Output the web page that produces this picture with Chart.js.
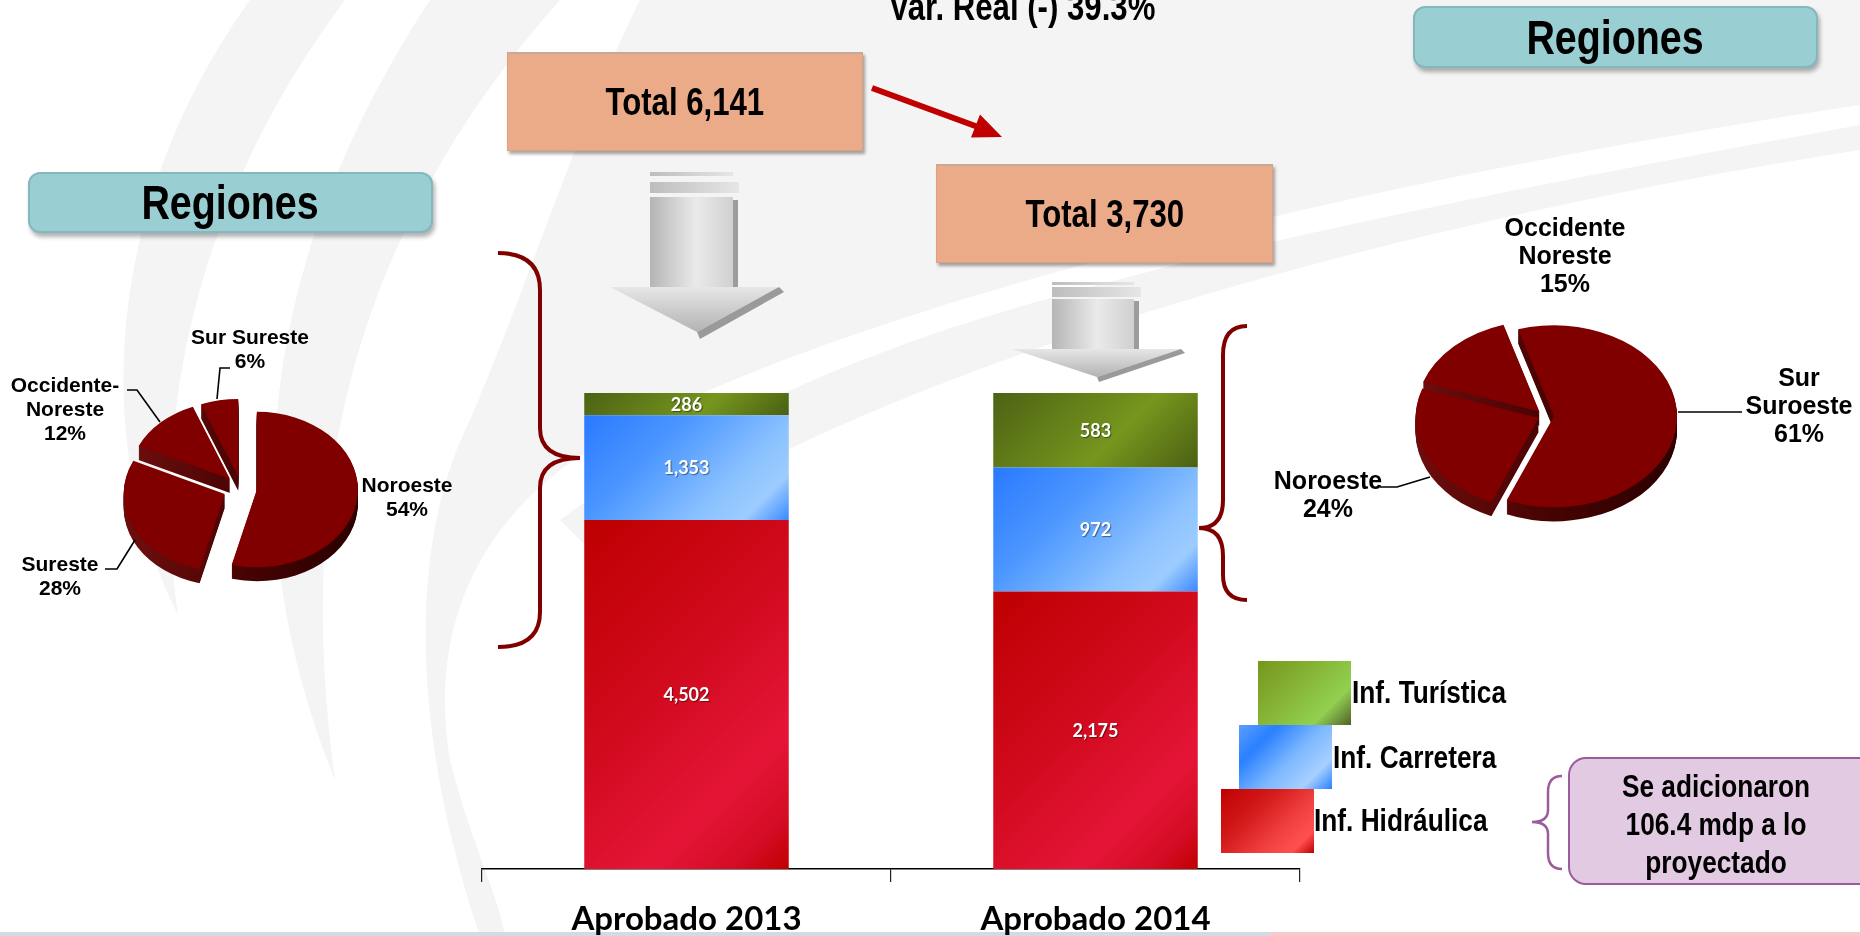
<!DOCTYPE html>
<html lang="es">
<head>
<meta charset="utf-8">
<title>Regiones</title>
<script src="https://cdn.jsdelivr.net/npm/chart.js@4.4.1/dist/chart.umd.min.js"></script>
<style>
  html, body { margin: 0; padding: 0; background: #fff; }
  #page { position: relative; width: 1860px; height: 936px; overflow: hidden; background: #fff; }
  .layer { position: absolute; left: 0; top: 0; }
  .narrow { font-family: "Liberation Sans", Arial, sans-serif; font-weight: bold; color: #000; }
  .sq { display: inline-block; transform: scaleX(0.82); }
  .box { position: absolute; box-sizing: border-box; display: flex; align-items: center; justify-content: center; white-space: nowrap; }
  .total { background: #EBAA88; border: 1px solid #DFA07E; border-top: 2px solid #C8A898; box-shadow: 2px 3px 3px rgba(0,0,0,.35); font-size: 38px; }
  .reg { background: #99CED3; border: 2px solid #84B8BD; border-radius: 12px; box-shadow: 2px 4px 4px rgba(0,0,0,.3); font-size: 48px; }
  .plabel { position: absolute; transform: translateX(-50%); text-align: center; white-space: pre; font-family: "Liberation Sans", Arial, sans-serif; font-weight: bold; color: #000; }
  .lg-sq { position: absolute; width: 93px; height: 64px; }
  .lg-tx { position: absolute; font-size: 32px; line-height: 32px; white-space: nowrap; transform: scaleX(0.82); transform-origin: 0 50%; }
  .cv { position: absolute; }
</style>
</head>
<body>
<div id="page">

  <!-- background swooshes -->
  <svg class="layer" width="1860" height="936">
    <path d="M250,0 C120,180 80,420 178,615 C150,420 195,200 345,0 Z" fill="#F4F4F4"/>
    <path d="M430,0 C260,260 230,520 335,780 C300,520 330,260 560,0 Z" fill="#F4F4F4"/>
    <path d="M640,0 L1860,0 L1860,105 C1300,190 760,330 560,470 C470,540 430,640 450,760 C470,840 500,900 505,936 L480,936 C420,760 400,560 470,420 C530,280 580,120 640,0 Z" fill="#F4F4F4"/>
    <path d="M1860,125 C1500,190 1150,260 930,335 C760,395 640,460 560,520 L600,560 C760,440 1050,330 1380,247 C1550,205 1700,175 1860,150 Z" fill="#F4F4F4"/>
    <rect x="0" y="932" width="1270" height="4" fill="#D3DAE2"/>
    <rect x="1270" y="932" width="590" height="4" fill="#F6CACA"/>
  </svg>

  <canvas id="bars" class="cv" width="900" height="576" style="left:440px;top:360px"></canvas>
  <canvas id="pieLeft" class="cv" width="300" height="300" style="left:91px;top:338px"></canvas>
  <canvas id="pieRight" class="cv" width="300" height="300" style="left:1395px;top:266px"></canvas>

  <!-- arrows, braces, leader lines -->
  <svg class="layer" width="1860" height="936">
    <defs>
      <linearGradient id="shaft" x1="0" x2="1" y1="0" y2="0">
        <stop offset="0" stop-color="#B5B5B5"/><stop offset="0.55" stop-color="#EAEAEA"/><stop offset="1" stop-color="#D0D0D0"/>
      </linearGradient>
      <linearGradient id="stripe" x1="0" x2="1" y1="0" y2="0">
        <stop offset="0" stop-color="#BDBDBD"/><stop offset="1" stop-color="#E6E6E6"/>
      </linearGradient>
      <linearGradient id="head" x1="0" x2="0" y1="0" y2="1">
        <stop offset="0" stop-color="#E6E6E6"/><stop offset="1" stop-color="#B3B3B3"/>
      </linearGradient>
    </defs>
    <g>
      <rect x="650" y="172" width="83" height="4" fill="url(#stripe)"/>
      <rect x="650" y="182" width="89" height="11" fill="url(#stripe)"/>
      <rect x="650" y="197" width="83" height="90" fill="url(#shaft)"/>
      <rect x="733" y="200" width="5" height="87" fill="#9C9C9C"/>
      <polygon points="610,287 779,287 697,332" fill="url(#head)"/>
      <polygon points="697,332 779,287 784,292 700,339" fill="#9A9A9A"/>
    </g>
    <g>
      <rect x="1052" y="282" width="82" height="3" fill="url(#stripe)"/>
      <rect x="1052" y="287" width="89" height="10" fill="url(#stripe)"/>
      <rect x="1052" y="299" width="82" height="50" fill="url(#shaft)"/>
      <rect x="1134" y="301" width="5" height="48" fill="#9C9C9C"/>
      <polygon points="1012,349 1181,349 1097,377" fill="url(#head)"/>
      <polygon points="1097,377 1181,349 1185,353 1099,382" fill="#9A9A9A"/>
    </g>
    <line x1="872" y1="88" x2="978" y2="127" stroke="#C00000" stroke-width="6"/>
    <polygon points="1002,137 971,137.5 980,114.5" fill="#C00000"/>

    <path d="M498,253 Q540,253 540,290 L540,428 Q540,458 580,458 Q540,458 540,488 L540,612 Q540,647 498,647"
          fill="none" stroke="#800000" stroke-width="4"/>
    <path d="M1247,326 Q1223,326 1223,355 L1223,500 Q1223,528 1199,528 Q1223,528 1223,556 L1223,575 Q1223,600 1247,600"
          fill="none" stroke="#800000" stroke-width="4"/>
    <path d="M1562,776 Q1548,776 1548,792 L1548,810 Q1548,822 1532,822 Q1548,822 1548,834 L1548,853 Q1548,869 1562,869"
          fill="none" stroke="#9B5C9B" stroke-width="2.5"/>

    <g fill="none" stroke="#000" stroke-width="1.6">
      <path d="M230,368 L220,368 L217,399"/>
      <path d="M127,390 L137,390 L160,422"/>
      <path d="M105,569 L117,569 L135,540"/>
      <path d="M1678,412 L1742,412"/>
      <path d="M1380,487 L1397,487 L1430,477"/>
    </g>
  </svg>

  <div class="narrow" style="position:absolute;left:1022px;top:-12px;transform:translateX(-50%) scaleX(0.82);font-size:38px;line-height:38px;white-space:nowrap" id="varReal"></div>
  <div class="box total narrow" style="left:507px;top:52px;width:356px;height:99px"><span id="total0" class="sq"></span></div>
  <div class="box total narrow" style="left:936px;top:164px;width:337px;height:99px"><span id="total1" class="sq"></span></div>
  <div class="box reg narrow" style="left:28px;top:172px;width:405px;height:61px"><span class="sq">Regiones</span></div>
  <div class="box reg narrow" style="left:1413px;top:6px;width:405px;height:62px"><span class="sq">Regiones</span></div>

  <div class="lg-sq" style="left:1258px;top:661px;background:linear-gradient(135deg,#76951C 0%,#86B536 40%,#92D050 75%,#4F6228 100%)"></div>
  <div class="lg-sq" style="left:1239px;top:725px;background:linear-gradient(135deg,#5A9EFF 0%,#2A80FF 25%,#7DB8FF 55%,#A6D0FF 80%,#2A80FF 100%)"></div>
  <div class="lg-sq" style="left:1221px;top:789px;background:linear-gradient(135deg,#C00000 0%,#D41A1A 35%,#F04040 65%,#FF5050 85%,#C00000 100%)"></div>
  <div id="lg2" class="lg-tx narrow" style="left:1352px;top:676px"></div>
  <div id="lg1" class="lg-tx narrow" style="left:1333px;top:741px"></div>
  <div id="lg0" class="lg-tx narrow" style="left:1314px;top:804px"></div>

  <div style="position:absolute;left:1568px;top:757px;width:320px;height:128px;box-sizing:border-box;background:#E2CBE2;border:2.5px solid #9B5C9B;border-radius:18px"></div>
  <div class="narrow" style="position:absolute;left:1716px;top:767px;transform:translateX(-50%) scaleX(0.82);font-size:32px;line-height:38px;text-align:center;white-space:nowrap">Se adicionaron<br>106.4 mdp a lo<br>proyectado</div>

  <div id="pieLabels"></div>
</div>

<script>
/* ─── Data ───────────────────────────────────────────────── */
const categories = ['Aprobado 2013', 'Aprobado 2014'];
const hidraulica = [4502, 2175];
const carretera  = [1353, 972];
const turistica  = [286, 583];
const seriesNames = ['Inf. Hidráulica', 'Inf. Carretera', 'Inf. Turística'];
const realChange = -39.3;

const leftRegions  = ['Noroeste', 'Sureste', 'Occidente-\nNoreste', 'Sur Sureste'];
const leftShares   = [54, 28, 12, 6];
const rightRegions = ['Sur\nSuroeste', 'Noroeste', 'Occidente\nNoreste'];
const rightShares  = [61, 24, 15];

/* ─── Layout ─────────────────────────────────────────────── */
// label anchors: center x, top y
const leftLabelPos  = [[407, 473], [60, 552], [65, 373], [250, 325]];
const rightLabelPos = [[1799, 363], [1328, 466], [1565, 213]];
// explosion distance of each slice, px
const leftExplode  = [16, 18, 16, 15];
const rightExplode = [9, 7, 8];

const fmt = v => v.toLocaleString('en-US');
const stack  = [hidraulica, carretera, turistica];
const totals = categories.map((_, i) => stack.reduce((s, a) => s + a[i], 0));
const shares = stack.map(a => a.map((v, i) => v / totals[i] * 100));

document.getElementById('varReal').textContent =
  `Var. Real (${realChange < 0 ? '-' : '+'}) ${Math.abs(realChange)}%`;
totals.forEach((t, i) => { document.getElementById('total' + i).textContent = 'Total ' + fmt(t); });
seriesNames.forEach((n, i) => { document.getElementById('lg' + i).textContent = n; });

/* ─── Stacked bars (each bar = 100%) ─────────────────────── */
const BAR_STOPS = [
  [[0, '#BD0000'], [0.45, '#D20A1E'], [0.75, '#E51537'], [0.9, '#D40C24'], [1, '#C00000']],
  [[0, '#2979FF'], [0.35, '#4C97FF'], [0.7, '#8CC2FF'], [0.85, '#9DCCFF'], [1, '#3A88FF']],
  [[0, '#4C6214'], [0.6, '#76961E'], [1, '#4A5F12']],
];

function segmentFill(d) {
  return (c) => {
    const chart = c.chart, xs = chart.scales.x, ys = chart.scales.y;
    const fallback = BAR_STOPS[d][1][1];
    if (c.type !== 'data' || !chart.chartArea || !xs || !ys) return fallback;
    const i = c.dataIndex;
    const w = xs.width / categories.length * 0.5;
    const x0 = xs.getPixelForValue(i) - w / 2;
    let below = 0;
    for (let j = 0; j < d; j++) below += shares[j][i];
    const y0 = ys.getPixelForValue(below + shares[d][i]);
    const y1 = ys.getPixelForValue(below);
    const L = (w + (y1 - y0)) / 2;
    if (![x0, y0, L].every(Number.isFinite)) return fallback;
    const g = chart.ctx.createLinearGradient(x0, y0, x0 + L, y0 + L);
    BAR_STOPS[d].forEach(([o, col]) => g.addColorStop(o, col));
    return g;
  };
}

const barValues = {
  id: 'barValues',
  afterDatasetsDraw(chart) {
    const ctx = chart.ctx;
    ctx.save();
    ctx.font = 'bold 18px Lato';
    ctx.fillStyle = '#fff';
    ctx.textAlign = 'center';
    ctx.textBaseline = 'middle';
    ctx.shadowColor = 'rgba(0,0,0,0.45)';
    ctx.shadowOffsetX = 1;
    ctx.shadowOffsetY = 1;
    ctx.shadowBlur = 1;
    chart.data.datasets.forEach((ds, d) => {
      chart.getDatasetMeta(d).data.forEach((bar, i) => {
        ctx.fillText(fmt(stack[d][i]), bar.x, (bar.y + bar.base) / 2 + 1);
      });
    });
    ctx.restore();
  },
};

new Chart(document.getElementById('bars'), {
  type: 'bar',
  data: {
    labels: categories,
    datasets: stack.map((vals, d) => ({
      label: seriesNames[d],
      data: shares[d],
      backgroundColor: segmentFill(d),
      borderWidth: 0,
      barPercentage: 0.5,
      categoryPercentage: 1,
    })),
  },
  options: {
    responsive: false,
    animation: false,
    events: [],
    layout: { padding: { left: 42, right: 40, top: 33, bottom: 0 } },
    plugins: { legend: { display: false }, tooltip: { enabled: false } },
    scales: {
      x: {
        stacked: true,
        grid: { display: true, offset: true, drawOnChartArea: false, drawTicks: true, tickLength: 13, color: '#222', lineWidth: 1.2 },
        border: { display: true, color: '#000', width: 1.5 },
        ticks: { color: '#000', font: { family: 'Lato', size: 33, weight: 'bold' }, padding: 18, maxRotation: 0 },
        afterFit: (s) => { s.height = 67; },
      },
      y: { stacked: true, display: false, min: 0, max: 100 },
    },
  },
  plugins: [barValues],
});

/* ─── 3D exploded pies ───────────────────────────────────── */
// squash the pie into an ellipse, extrude a dark side, then let each
// arc element draw itself shifted outward along its mid angle
function pie3d(k, depth, explode) {
  return {
    id: 'pie3d',
    beforeDatasetsDraw(chart) {
      const ctx = chart.ctx;
      const arcs = chart.getDatasetMeta(0).data;
      const { x: cx, y: cy, outerRadius: r } = arcs[0];
      const shift = arcs.map((a, i) => {
        const mid = (a.startAngle + a.endAngle) / 2;
        return [Math.cos(mid) * explode[i], Math.sin(mid) * explode[i]];
      });
      ctx.save();
      ctx.translate(0, cy * (1 - k));
      ctx.scale(1, k);
      const side = ctx.createLinearGradient(cx - r, 0, cx + r, 0);
      side.addColorStop(0, '#6B0D0D');
      side.addColorStop(0.5, '#480303');
      side.addColorStop(1, '#2E0000');
      ctx.fillStyle = side;
      for (let t = depth; t > 0; t--) {
        arcs.forEach((a, i) => {
          const x = a.x + shift[i][0];
          const y = a.y + shift[i][1] + t / k;
          ctx.beginPath();
          ctx.moveTo(x, y);
          ctx.arc(x, y, a.outerRadius, a.startAngle, a.endAngle);
          ctx.closePath();
          ctx.fill();
        });
      }
      arcs.forEach((a, i) => {
        ctx.save();
        ctx.translate(shift[i][0], shift[i][1]);
        a.draw(ctx);
        ctx.restore();
      });
      ctx.restore();
      return false;
    },
  };
}

function makePie(id, labels, values, rotation, radius, explode, k, depth) {
  return new Chart(document.getElementById(id), {
    type: 'pie',
    data: {
      labels,
      datasets: [{ data: values, backgroundColor: '#800000', borderWidth: 0, offset: 0, radius }],
    },
    options: {
      responsive: false,
      animation: false,
      events: [],
      rotation,
      plugins: { legend: { display: false }, tooltip: { enabled: false } },
    },
    plugins: [pie3d(k, depth, explode)],
  });
}

makePie('pieLeft', leftRegions, leftShares, 0, 101, leftExplode, 0.77, 14);
makePie('pieRight', rightRegions, rightShares, -17, 123, rightExplode, 0.74, 14);

/* ─── Pie labels ─────────────────────────────────────────── */
const holder = document.getElementById('pieLabels');
function addLabels(names, vals, pos, size, lh) {
  names.forEach((n, i) => {
    const el = document.createElement('div');
    el.className = 'plabel';
    el.style.left = pos[i][0] + 'px';
    el.style.top = pos[i][1] + 'px';
    el.style.fontSize = size + 'px';
    el.style.lineHeight = lh + 'px';
    el.textContent = `${n}\n${vals[i]}%`;
    holder.appendChild(el);
  });
}
addLabels(leftRegions, leftShares, leftLabelPos, 21, 24);
addLabels(rightRegions, rightShares, rightLabelPos, 25, 28);
</script>
</body>
</html>
